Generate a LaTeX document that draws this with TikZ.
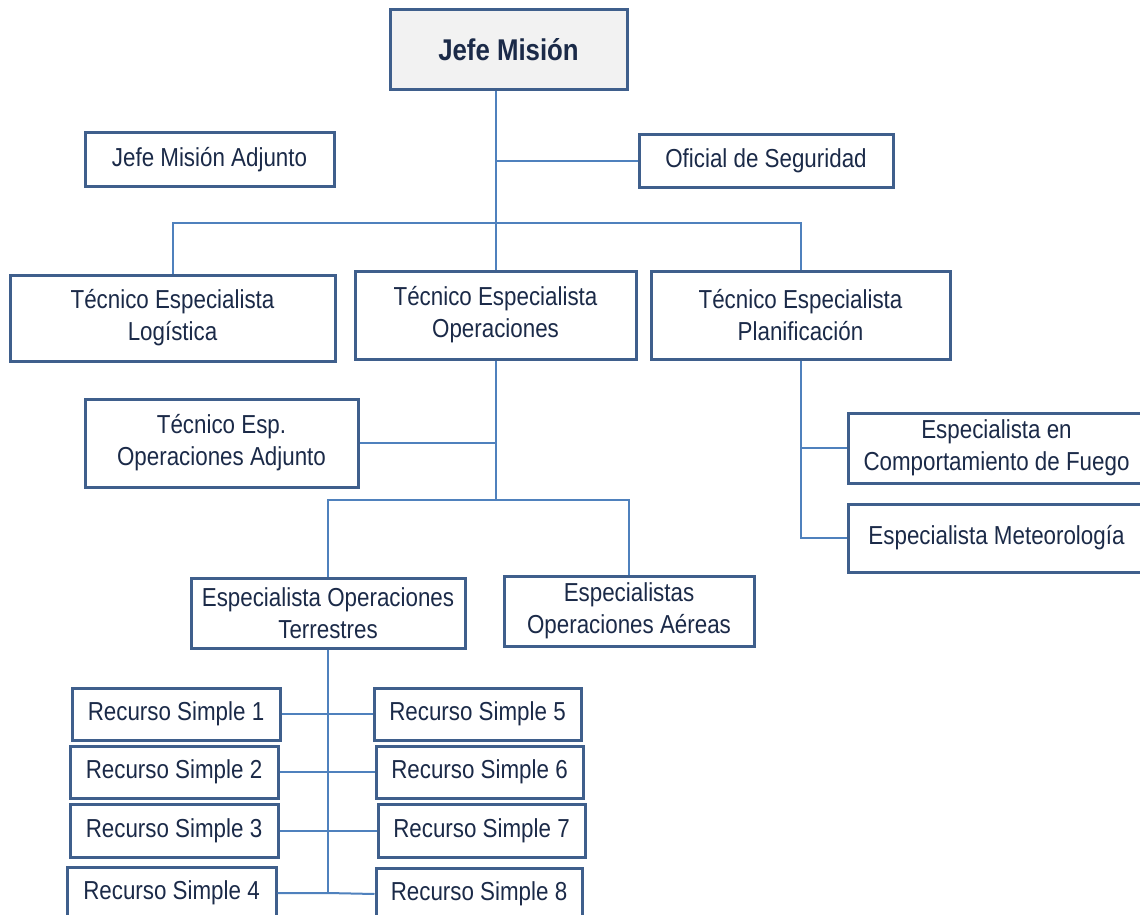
\documentclass[tikz,border=0pt]{standalone}
\usepackage{fontspec}
\setmainfont[FakeStretch=0.86]{Liberation Sans}
\definecolor{boxc}{HTML}{3F5F8C}
\definecolor{linec}{HTML}{4F81BD}
\definecolor{txtc}{HTML}{1B2A48}
\definecolor{topfill}{HTML}{F2F2F2}
\begin{document}
\begin{tikzpicture}[x=1pt,y=-1pt,
  box/.style={draw=boxc,line width=3pt,fill=white,inner sep=0pt,align=center,
    text=txtc,font=\fontsize{26}{32}\selectfont},
  conn/.style={draw=linec,line width=2pt}]
\useasboundingbox (0,0) rectangle (1140,915);
\clip (0,0) rectangle (1140,915);
\fill[white] (0,0) rectangle (1140,915);
% nodes
\node[box,fill=topfill,minimum width=237pt,minimum height=80pt,font=\fontsize{30}{36}\selectfont\bfseries] (jefe) at (508.5,50) {Jefe Misión};
\node[box,minimum width=249pt,minimum height=53pt] (adj) at (209.5,159.5) {Jefe Misión Adjunto};
\node[box,minimum width=254pt,minimum height=52pt] (ofi) at (766,161) {Oficial de Seguridad};
\node[box,minimum width=325pt,minimum height=86pt] (log) at (172.5,318) {Técnico Especialista\\Logística};
\node[box,minimum width=281pt,minimum height=88pt] (ope) at (495.5,315) {Técnico Especialista\\Operaciones};
\node[box,minimum width=299pt,minimum height=88pt] (pla) at (800.5,315) {Técnico Especialista\\Planificación};
\node[box,minimum width=273pt,minimum height=88pt] (opadj) at (221.5,443) {Técnico Esp.\\Operaciones Adjunto};
\node[box,minimum width=297pt,minimum height=70pt] (fue) at (996.5,448) {Especialista en\\Comportamiento de Fuego};
\node[box,minimum width=297pt,minimum height=68pt] (met) at (996.5,538) {Especialista Meteorología};
\node[box,minimum width=274pt,minimum height=70pt] (ter) at (328,613) {Especialista Operaciones\\Terrestres};
\node[box,minimum width=250pt,minimum height=70pt] (aer) at (629,611) {Especialistas\\Operaciones Aéreas};
\node[box,minimum width=208pt,minimum height=52pt] (rs1) at (176,714) {Recurso Simple 1};
\node[box,minimum width=208pt,minimum height=52pt] (rs2) at (174,772) {Recurso Simple 2};
\node[box,minimum width=208pt,minimum height=53pt] (rs3) at (174,830.5) {Recurso Simple 3};
\node[box,minimum width=209pt,minimum height=52pt] (rs4) at (171.5,893) {Recurso Simple 4};
\node[box,minimum width=207pt,minimum height=52pt] (rs5) at (477.5,714) {Recurso Simple 5};
\node[box,minimum width=207pt,minimum height=52pt] (rs6) at (479.5,772) {Recurso Simple 6};
\node[box,minimum width=207pt,minimum height=53pt] (rs7) at (481.5,830.5) {Recurso Simple 7};
\node[box,minimum width=206pt,minimum height=52pt] (rs8) at (479,894) {Recurso Simple 8};
% connectors
\coordinate (bar) at (0,223);
\coordinate (j2) at (0,500);
\coordinate (tend) at (0,893);
\path[conn] (ope.north) -- (ope.north |- jefe.south);
\path[conn] (ofi.west) -- (ofi.west -| ope.north);
\path[conn] (log.north) -- (log.north |- bar) -- (pla.north |- bar) -- (pla.north);
\path[conn] (ope.south) -- (ope.south |- j2);
\path[conn] (opadj.east) -- (opadj.east -| ope.south);
\path[conn] (ter.north) -- (ter.north |- j2) -- (aer.north |- j2) -- (aer.north);
\path[conn] (pla.south) -- (pla.south |- met.west) -- (met.west);
\path[conn] (fue.west) -- (fue.west -| pla.south);
\path[conn] (ter.south) -- (ter.south |- tend);
\path[conn] (rs1.east) -- (rs5.west);
\path[conn] (rs2.east) -- (rs6.west);
\path[conn] (rs3.east) -- (rs7.west);
\path[conn] (rs4.east) -- (rs4.east -| ter.south) -- (rs8.west);
\end{tikzpicture}
\end{document}
